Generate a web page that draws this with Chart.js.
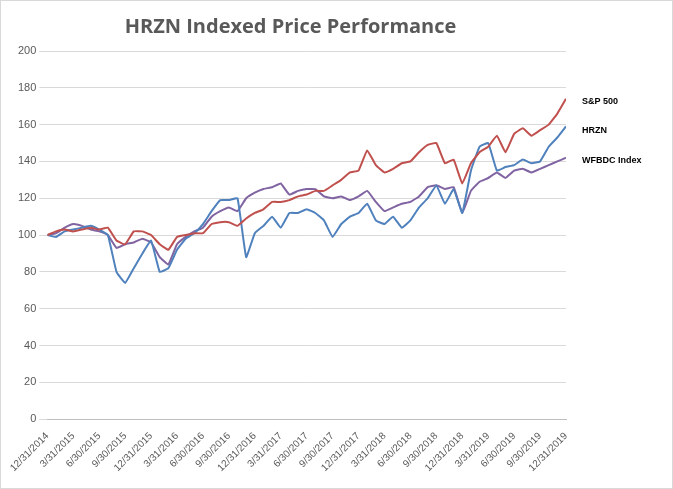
<!DOCTYPE html>
<html>
<head>
<meta charset="utf-8">
<script src="https://cdn.jsdelivr.net/npm/chart.js@4"></script>
<style>
  body { margin: 0; background: #fff; }
  #wrap { position: relative; width: 671px; height: 487px; border: 1px solid #d9d9d9; }
</style>
</head>
<body>
<div id="wrap"><canvas id="c"></canvas></div>
<script>
// ==== Data (monthly, 12/31/2014 .. 12/31/2019) ====
const tickLabels = ['12/31/2014','3/31/2015','6/30/2015','9/30/2015','12/31/2015','3/31/2016','6/30/2016',
  '9/30/2016','12/31/2016','3/31/2017','6/30/2017','9/30/2017','12/31/2017','3/31/2018','6/30/2018',
  '9/30/2018','12/31/2018','3/31/2019','6/30/2019','9/30/2019','12/31/2019'];
const seriesNames = ['S&P 500', 'HRZN', 'WFBDC Index'];
const sp500 = [100,102,103,102,103,104,103,104,97,95,102,102,100,95,92,99,100,101,101,106,107,107,105,109,
  112,114,118,118,119,121,122,124,124,127,130,134,135,146,138,134,136,139,140,145,149,150,139,141,128,
  139,145,148,154,145,155,158,154,157,160,166,174];
const hrzn = [100,99,102,103,104,105,103,100,80,74,82,90,97,80,82,92,98,101,106,113,119,119,120,88,
  101,105,110,104,112,112,114,112,108,99,106,110,112,117,108,106,110,104,108,115,120,127,117,125,112,
  135,148,150,135,137,138,141,139,140,148,153,159];
const wfbdc = [100,101,104,106,105,103,102,100,93,95,96,98,96,88,84,95,99,102,104,110,113,115,113,120,
  123,125,126,128,122,124,125,125,121,120,121,119,121,124,118,113,115,117,118,121,126,127,125,126,112,
  124,129,131,134,131,135,136,134,136,138,140,142];
const colors = ['#c0504d', '#4f81bd', '#8064a2'];

const toPts = arr => arr.map((v, i) => ({ x: i, y: v }));

// labels at the right end of each line
const endLabels = {
  id: 'endLabels',
  afterDatasetsDraw(chart) {
    const ctx = chart.ctx;
    ctx.save();
    ctx.font = 'bold 9px "Liberation Sans", Arial, sans-serif';
    ctx.fillStyle = '#000';
    ctx.textBaseline = 'middle';
    const offs = [3, 4, 3];
    chart.data.datasets.forEach((ds, i) => {
      const meta = chart.getDatasetMeta(i);
      const p = meta.data[meta.data.length - 1];
      ctx.fillText(ds.label, p.x + 16, p.y + offs[i]);
    });
    ctx.restore();
  }
};

new Chart(document.getElementById('c'), {
  type: 'line',
  data: {
    datasets: [sp500, hrzn, wfbdc].map((d, i) => ({
      label: seriesNames[i], data: toPts(d), borderColor: colors[i],
      borderWidth: 2, pointRadius: 0, tension: 0.1
    }))
  },
  options: {
    responsive: true, maintainAspectRatio: false, animation: false,
    layout: { padding: { left: 14, right: 106, top: 6, bottom: 11 } },
    plugins: {
      legend: { display: false },
      tooltip: { enabled: false },
      title: { display: true, text: 'HRZN Indexed Price Performance', color: '#595959',
        font: { size: 20, weight: 'bold', family: '"Open Sans", sans-serif' }, padding: { top: 8, bottom: 12 } }
    },
    scales: {
      x: {
        type: 'linear', min: 0, max: 60,
        grid: { display: false },
        border: { color: '#bfbfbf' },
        ticks: { stepSize: 3, autoSkip: false, minRotation: 45, maxRotation: 45, color: '#595959',
          font: { size: 10, family: '"Liberation Sans", Arial, sans-serif' },
          callback: v => tickLabels[v / 3] }
      },
      y: {
        min: 0, max: 200,
        grid: { color: '#d9d9d9' },
        border: { display: false },
        ticks: { stepSize: 20, color: '#595959', font: { size: 11, family: '"Liberation Sans", Arial, sans-serif' } }
      }
    }
  },
  plugins: [endLabels]
});
</script>
</body>
</html>
